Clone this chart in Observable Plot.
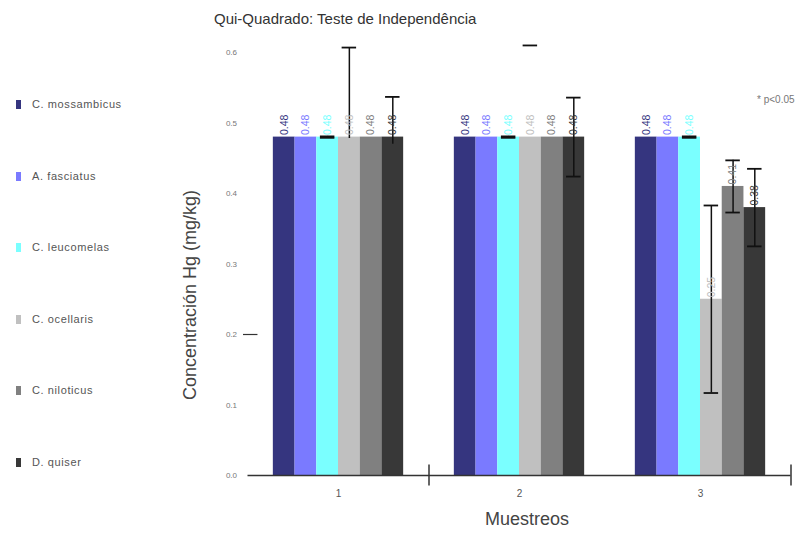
<!DOCTYPE html>
<html><head><meta charset="utf-8">
<script src="https://cdn.jsdelivr.net/npm/d3@7"></script>
<script src="https://cdn.jsdelivr.net/npm/@observablehq/plot@0.6"></script>
<style>
body{margin:0;background:#fff;font-family:"Liberation Sans",Arial,sans-serif;}
#wrap{position:relative;width:809px;height:544px;overflow:hidden;background:#fff;}
#chart{position:absolute;left:0;top:0;}
.abs{position:absolute;white-space:nowrap;line-height:1;}
.sw{position:absolute;width:5px;height:9px;}
</style></head><body><div id="wrap"><div id="chart"></div></div>
<script>
// ---- data ----
const title = "Qui-Quadrado: Teste de Independência";
const yTitle = "Concentración Hg (mg/kg)";
const xTitle = "Muestreos";
const note = "* p<0.05";
const species = ["C. mossambicus", "A. fasciatus", "C. leucomelas", "C. ocellaris", "C. niloticus", "D. quiser"];
const colors = ["#35357f", "#7a7aff", "#7affff", "#c0c0c0", "#808080", "#383838"];
const groups = [1, 2, 3];
const groupLabels = ["1", "2", "3"];
const values1 = [0.48, 0.48, 0.48, 0.48, 0.48, 0.48];
const values2 = [0.48, 0.48, 0.48, 0.48, 0.48, 0.48];
const values3 = [0.48, 0.48, 0.48, 0.25, 0.41, 0.38];
const yTicks = [0, 0.1, 0.2, 0.3, 0.4, 0.5, 0.6];
// error bars
const errGroup   = [1, 1, 1, 2, 2, 3, 3, 3, 3];
const errSpecies = [2, 3, 5, 2, 5, 2, 3, 4, 5];
const errLow     = [0.479, 0.478, 0.47, 0.479, 0.424, 0.479, 0.117, 0.373, 0.325];
const errHigh    = [0.481, 0.607, 0.537, 0.481, 0.536, 0.481, 0.383, 0.447, 0.435];
// isolated cap (no visible whisker)
const strayGroup = [2];
const straySpecies = [3];
const strayValue = [0.61];
// axis tick marks on the category axis
const xAxisTicks = [1.5, 3.5];

// ---- build tables ----
const bw = 0.12;
const center = (g, i) => g + (i - 2.5) * bw;
const allValues = [values1, values2, values3];
const bars = [];
groups.forEach((g, gi) => species.forEach((s, i) => bars.push({g, i, s, value: allValues[gi][i]})));
const errs = errGroup.map((g, k) => ({g, i: errSpecies[k], lo: errLow[k], hi: errHigh[k]}));
const strays = strayGroup.map((g, k) => ({g, i: straySpecies[k], v: strayValue[k]}));
const capW = 0.04;

const plot = Plot.plot({
  width: 809, height: 544,
  marginLeft: 247.5, marginRight: 18.5, marginTop: 52, marginBottom: 69,
  x: {type: "linear", domain: [0.5, 3.5], axis: null},
  y: {domain: [0, 0.6], axis: null},
  style: {fontFamily: "'Liberation Sans', Arial, sans-serif", background: "transparent", overflow: "visible"},
  marks: [
    Plot.rectY(bars, {x1: d => center(d.g, d.i) - bw / 2, x2: d => center(d.g, d.i) + bw / 2, y1: 0, y2: "value", fill: d => colors[d.i]}),
    Plot.ruleY([0], {stroke: "#333", strokeWidth: 1.5}),
    Plot.ruleX(xAxisTicks, {x: d => d, y1: -0.015, y2: 0.015, stroke: "#333", strokeWidth: 1.5}),
    Plot.ruleY([0.2], {x1: 0.475, x2: 0.555, stroke: "#333", strokeWidth: 1.2}),
    Plot.text(yTicks, {x: 0.5, y: d => d, text: d => d3.format(".1f")(d), dx: -11, textAnchor: "end", fontSize: 8, fill: "#777"}),
    Plot.text(groups, {x: d => d, y: 0, dy: 18, text: (d, k) => groupLabels[k], fontSize: 10, fill: "#555"}),
    // error bars
    Plot.ruleX(errs, {x: d => center(d.g, d.i), y1: "lo", y2: "hi", stroke: "#111", strokeWidth: 1.5}),
    Plot.ruleY(errs, {y: "hi", x1: d => center(d.g, d.i) - capW, x2: d => center(d.g, d.i) + capW, stroke: "#111", strokeWidth: 1.8}),
    Plot.ruleY(errs.filter(d => d.lo < d.hi - 0.01 && d.lo < 0.47 || d.hi - d.lo < 0.01), {y: "lo", x1: d => center(d.g, d.i) - capW, x2: d => center(d.g, d.i) + capW, stroke: "#111", strokeWidth: 1.8}),
    Plot.ruleY(strays, {y: "v", x1: d => center(d.g, d.i) - capW, x2: d => center(d.g, d.i) + capW, stroke: "#111", strokeWidth: 1.8}),
    // value labels
    Plot.text(bars, {x: d => center(d.g, d.i), y: "value", text: d => d.value.toFixed(2), rotate: -90, textAnchor: "start", lineAnchor: "middle", dy: -2, fontSize: 10.5, fill: d => colors[d.i]})
  ]
});
document.getElementById("chart").appendChild(plot);

// ---- html texts ----
const wrap = document.getElementById("wrap");
function addText(txt, css) {
  const el = document.createElement("div");
  el.className = "abs";
  el.textContent = txt;
  Object.assign(el.style, css);
  wrap.appendChild(el);
  return el;
}
addText(title, {left: "214px", top: "11px", fontSize: "15px", color: "#333"});
addText(xTitle, {left: "485px", top: "510px", fontSize: "18px", color: "#444"});
addText(note, {left: "757px", top: "95px", fontSize: "10px", color: "#777"});
addText(yTitle, {left: "190px", top: "295px", fontSize: "18px", color: "#444", transform: "translate(-50%,-50%) rotate(-90deg)"});
// legend
species.forEach((s, i) => {
  const cy = 105 + i * 71.6;
  const sw = document.createElement("div");
  sw.className = "sw";
  Object.assign(sw.style, {left: "16px", top: (cy - 5) + "px", background: colors[i]});
  wrap.appendChild(sw);
  addText(s, {left: "32px", top: (cy - 6) + "px", fontSize: "11px", letterSpacing: "0.6px", color: "#555"});
});
</script></body></html>
